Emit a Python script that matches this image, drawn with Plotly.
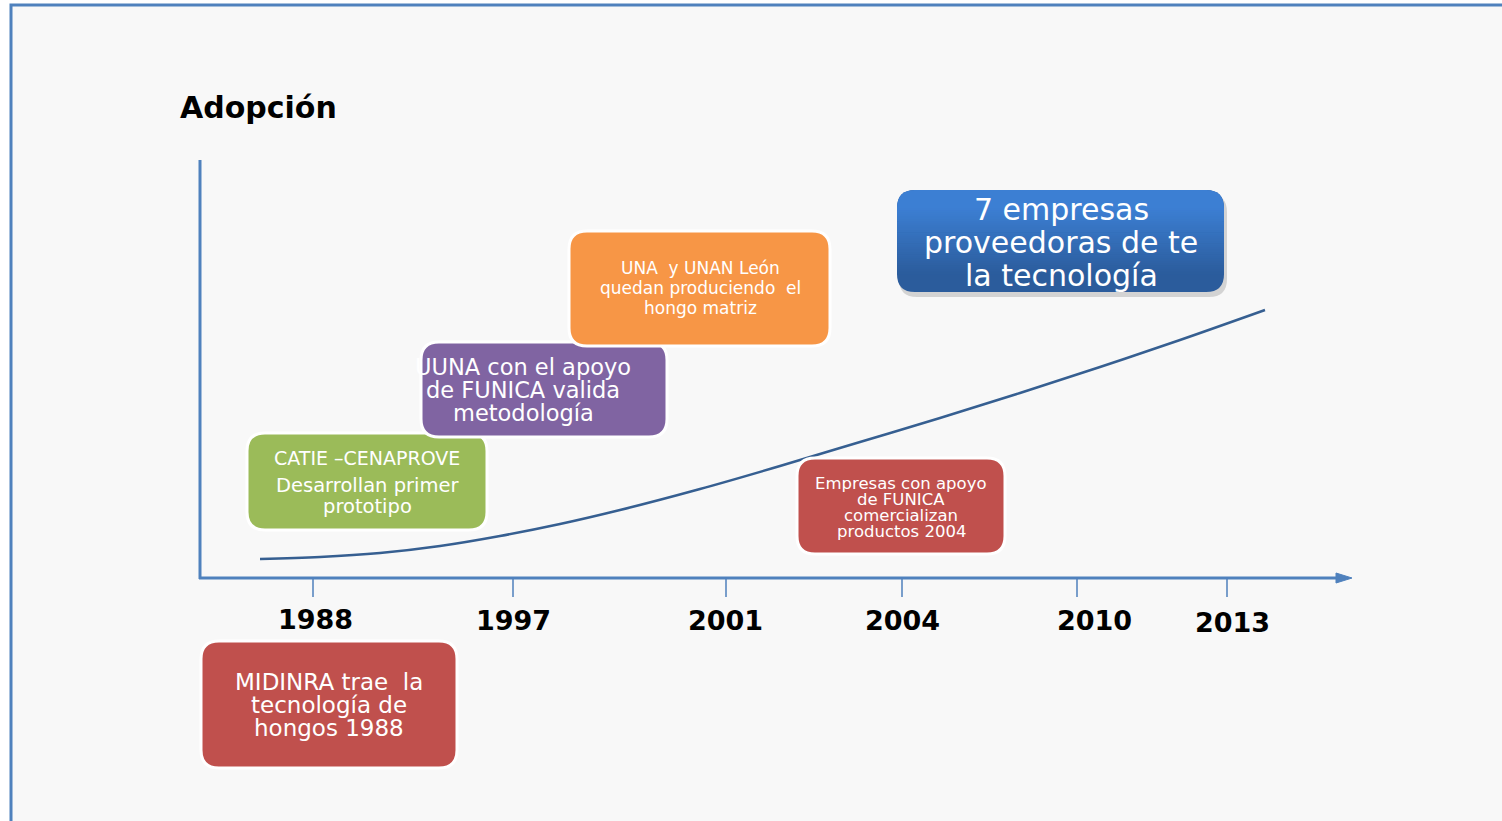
import plotly.graph_objects as go

# ---- data ----
years = ["1988", "1997", "2001", "2004", "2010", "2013"]
year_tick_x = [313, 513, 726, 902, 1077, 1227]
year_label_x = [315, 513, 725, 902, 1094, 1232]
year_label_y = [619, 620, 620, 620, 620, 622]

curve_x = [260, 320, 380, 440, 500, 560, 620, 700, 780, 860, 940, 1020, 1100, 1180, 1265]
curve_y = [559, 557, 553, 546, 536, 524, 510, 489, 466, 442, 418, 393, 367, 340, 310]

# event boxes
events = [
    dict(box=(247, 433, 487, 530), color="#9bbb59",
         lines=["CATIE \u2013CENAPROVE", "Desarrollan primer", "prototipo"],
         ly=[458, 485, 506], size=[19, 19.5, 19.5], cx=367),
    dict(box=(421, 342, 667, 437), color="#8064a2",
         lines=["UUNA con el apoyo", "de FUNICA valida", "metodología"],
         ly=[367, 390, 413], size=[22.5] * 3, cx=523),
    dict(box=(569, 231, 830, 346), color="#f79646",
         lines=["UNA  y UNAN León", "quedan produciendo  el", "hongo matriz"],
         ly=[268, 288, 308], size=[17] * 3, cx=700),
    dict(box=(797, 458, 1005, 554), color="#c0504d",
         lines=["Empresas con apoyo", "de FUNICA", "comercializan", "productos 2004"],
         ly=[483, 499, 515, 531], size=[16.5] * 4, cx=901),
    dict(box=(201, 641, 457, 768), color="#c0504d",
         lines=["MIDINRA trae  la", "tecnología de", "hongos 1988"],
         ly=[682, 705, 728], size=[23] * 3, cx=329),
    dict(box=(897, 190, 1224, 292), color="gradient",
         lines=["7 empresas", "proveedoras de te", "la tecnología"],
         ly=[209, 242, 275], size=[30] * 3, cx=1061),
]

BLUE = "#4f81bd"
W, H = 1502, 821


def rrect(x0, y0, x1, y1, r):
    return (f"M {x0+r},{y0} L {x1-r},{y0} Q {x1},{y0} {x1},{y0+r} "
            f"L {x1},{y1-r} Q {x1},{y1} {x1-r},{y1} L {x0+r},{y1} "
            f"Q {x0},{y1} {x0},{y1-r} L {x0},{y0+r} Q {x0},{y0} {x0+r},{y0} Z")


def mix(c1, c2, t):
    a = [int(c1[i:i + 2], 16) for i in (1, 3, 5)]
    b = [int(c2[i:i + 2], 16) for i in (1, 3, 5)]
    return "rgb(%d,%d,%d)" % tuple(round(a[k] + (b[k] - a[k]) * t) for k in range(3))


fig = go.Figure()
shapes = []
annotations = []

# page background and frame
shapes.append(dict(type="rect", xref="x", yref="y", x0=11, y0=5, x1=W + 20, y1=H + 20,
                   fillcolor="#f8f8f8", line=dict(color=BLUE, width=3), layer="below"))

# axes of the diagram
shapes.append(dict(type="line", xref="x", yref="y", x0=200, y0=160, x1=200, y1=579,
                   line=dict(color=BLUE, width=3)))
shapes.append(dict(type="line", xref="x", yref="y", x0=199, y0=578, x1=1340, y1=578,
                   line=dict(color=BLUE, width=3)))
shapes.append(dict(type="path", xref="x", yref="y",
                   path="M 1336,573 L 1352,578 L 1336,583 Z",
                   fillcolor=BLUE, line=dict(color=BLUE, width=1)))
for tx in year_tick_x:
    shapes.append(dict(type="line", xref="x", yref="y", x0=tx, y0=579, x1=tx, y1=597,
                       line=dict(color=BLUE, width=1.5)))

for xl, yl, yr in zip(year_label_x, year_label_y, years):
    annotations.append(dict(x=xl, y=yl, xref="x", yref="y", text=f"<b>{yr}</b>",
                            showarrow=False, xanchor="center", yanchor="middle",
                            font=dict(family="DejaVu Sans", size=27, color="black")))

annotations.append(dict(x=178, y=107, xref="x", yref="y", text="<b>Adopción</b>",
                        showarrow=False, xanchor="left", yanchor="middle",
                        font=dict(family="DejaVu Sans", size=30, color="black")))

# event boxes
for ev in events:
    x0, y0, x1, y1 = ev["box"]
    if ev["color"] == "gradient":
        top, bot = "#3c7fd3", "#2b5c9c"
        shapes.append(dict(type="path", xref="x", yref="y",
                           path=rrect(x0 + 2, y0 + 4, x1 + 3, y1 + 5, 18),
                           fillcolor="rgba(0,0,0,0.15)", line=dict(width=0)))
        shapes.append(dict(type="path", xref="x", yref="y",
                           path=rrect(x0, y0, x1, y1, 18),
                           fillcolor=bot, line=dict(width=0)))
        shapes.append(dict(type="path", xref="x", yref="y",
                           path=rrect(x0, y0, x1, y0 + 40, 18),
                           fillcolor=top, line=dict(width=0)))
        n = 30
        ys0, ys1 = y0 + 18, y1 - 18
        step = (ys1 - ys0) / n
        for i in range(n):
            t = (i + 0.5) / n
            shapes.append(dict(type="rect", xref="x", yref="y",
                               x0=x0, x1=x1, y0=ys0 + i * step, y1=ys0 + (i + 1) * step + 0.6,
                               fillcolor=mix(top, bot, t), line=dict(width=0)))
    else:
        shapes.append(dict(type="path", xref="x", yref="y",
                           path=rrect(x0, y0, x1, y1, 18),
                           fillcolor=ev["color"], line=dict(color="white", width=3)))
    for txt, yy, sz in zip(ev["lines"], ev["ly"], ev["size"]):
        annotations.append(dict(x=ev["cx"], y=yy, xref="x", yref="y", text=txt,
                                showarrow=False, xanchor="center", yanchor="middle",
                                font=dict(family="DejaVu Sans", size=sz, color="white")))

# adoption curve
fig.add_trace(go.Scatter(x=curve_x, y=curve_y, mode="lines",
                         line=dict(color="#365f91", width=2.5, shape="spline"),
                         hoverinfo="skip", showlegend=False))

fig.update_layout(
    width=W, height=H,
    margin=dict(l=0, r=0, t=0, b=0),
    paper_bgcolor="white", plot_bgcolor="white",
    xaxis=dict(range=[0, W], visible=False, fixedrange=True),
    yaxis=dict(range=[H, 0], visible=False, fixedrange=True),
    shapes=shapes, annotations=annotations, showlegend=False,
)

fig.write_html("out.html", config={"displayModeBar": False},
               post_script="document.body.style.margin='0';document.body.style.overflow='hidden';")
